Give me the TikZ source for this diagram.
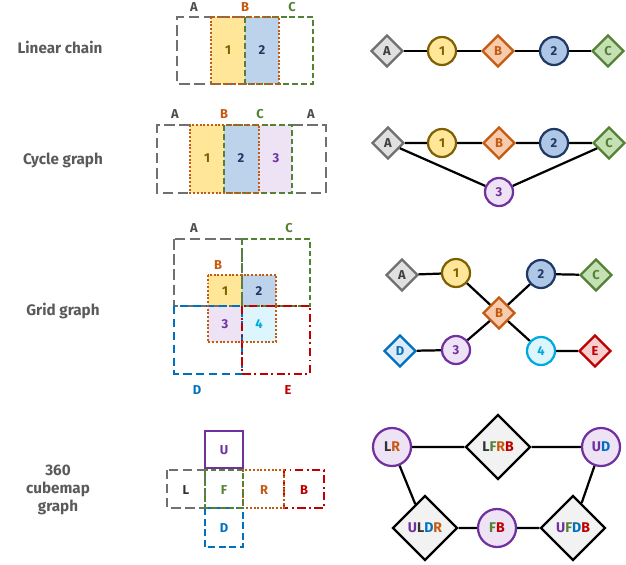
\documentclass[tikz,border=0pt]{standalone}
\usepackage{fontspec}
\setmainfont{Fira Sans}
\usetikzlibrary{shapes.geometric}
\definecolor{cgray}{HTML}{707070}
\definecolor{corange}{HTML}{C55A11}
\definecolor{cgreen}{HTML}{548235}
\definecolor{cpurple}{HTML}{7030A0}
\definecolor{cblue}{HTML}{0070C0}
\definecolor{cred}{HTML}{C00000}
\definecolor{cnavy}{HTML}{1F3864}
\definecolor{colive}{HTML}{7F6000}
\definecolor{ccyan}{HTML}{00A8E0}
\definecolor{fyellow}{HTML}{FFE699}
\definecolor{fblue}{HTML}{BDD3EC}
\definecolor{flav}{HTML}{EEE3F5}
\definecolor{fcyan}{HTML}{DDF5FC}
\definecolor{fgray}{HTML}{E0E0E0}
\definecolor{forange}{HTML}{F8CBAD}
\definecolor{fgreen}{HTML}{C5E0B4}
\definecolor{fdblue}{HTML}{AFC7E6}
\definecolor{fred}{HTML}{F8CFCF}
\definecolor{fltblue}{HTML}{DDEBF7}
\definecolor{fwhite}{HTML}{F2F2F2}
\tikzset{
  lbl/.style={font=\fontsize{13}{15}\selectfont\bfseries, text=cgray!80!black, align=center},
  tag/.style={font=\fontsize{11}{12}\selectfont\bfseries},
  bx/.style={line width=1.9pt},
  ga/.style={bx, cgray, dash pattern=on 9pt off 4pt},
  ob/.style={bx, corange, dash pattern=on 1.6pt off 1.6pt},
  gc/.style={bx, cgreen, dash pattern=on 5pt off 2.5pt},
  bd/.style={bx, cblue, dash pattern=on 7pt off 4pt},
  re/.style={bx, cred, dash pattern=on 7pt off 3pt on 1.6pt off 3pt},
  dm/.style={diamond, aspect=1, draw, line width=1.9pt, minimum size=0.96cm, inner sep=0pt, font=\fontsize{11}{12}\selectfont\bfseries},
  cr/.style={circle, draw, line width=1.9pt, minimum size=0.84cm, inner sep=0pt, font=\fontsize{11}{12}\selectfont\bfseries},
  bigdm/.style={dm, minimum size=1.95cm, fill=fwhite, draw=black, font=\fontsize{12}{13}\selectfont\bfseries},
  bigcr/.style={cr, minimum size=1.14cm, fill=flav, draw=cpurple, font=\fontsize{12}{13}\selectfont\bfseries},
  ed/.style={line width=1.9pt, black},
}
\begin{document}
\begin{tikzpicture}[x=0.03cm, y=-0.03cm]
\useasboundingbox (0,0) rectangle (626,564);
% left labels
\node[lbl] (l1) at (60,47) {Linear chain};
\node[lbl] (l2) at (63,160) {Cycle graph};
\node[lbl] (l3) at (63,311) {Grid graph};
\node[lbl] (l4) at (58,490) {360\\cubemap\\graph};

% ---- linear chain tiles
\fill[fyellow] (211,17) rectangle (245,84);
\fill[fblue] (245,17) rectangle (279,84);
\draw[ga] (245,17) -- (177,17) -- (177,84) -- (245,84);
\draw[gc] (245,17) rectangle (313,84);
\draw[ob] (211,17) rectangle (279,84);
\node[tag, text=colive] (t1) at (228,50) {1};
\node[tag, text=cnavy] (t2) at (262,50) {2};
\node[tag, text=cgray!70!black] (ta) at (194,7) {A};
\node[tag, text=corange] (tb) at (245,7) {B};
\node[tag, text=cgreen] (tc) at (292,7) {C};

% ---- cycle tiles
\fill[fyellow] (190,125) rectangle (224,193);
\fill[fblue] (224,125) rectangle (259,193);
\fill[flav] (259,125) rectangle (292,193);
\draw[ga] (190,125) -- (157,125) -- (157,193) -- (190,193);
\draw[ga] (292,125) -- (326,125) -- (326,193) -- (292,193);
\draw[gc] (224,125) rectangle (292,193);
\draw[ob] (190,125) rectangle (259,193);
\node[tag, text=colive] (c1) at (207,158) {1};
\node[tag, text=cnavy] (c2) at (241,158) {2};
\node[tag, text=cpurple] (c3) at (276,158) {3};
\node[tag, text=cgray!70!black] (ca) at (175,114) {A};
\node[tag, text=corange] (cb) at (224,114) {B};
\node[tag, text=cgreen] (cc) at (260,114) {C};
\node[tag, text=cgray!70!black] (ca2) at (311,114) {A};

% ---- grid tiles
\fill[fyellow] (208,275) rectangle (242,306);
\fill[fblue] (242,275) rectangle (276,306);
\fill[flav] (208,306) rectangle (242,342);
\fill[fcyan] (242,306) rectangle (276,342);
\draw[ga] (174,239) rectangle (242,306);
\draw[gc] (242,239) rectangle (310,306);
\draw[bd] (174,306) rectangle (242,374);
\draw[re] (242,306) rectangle (310,374);
\draw[ob] (208,275) rectangle (276,342);
\node[tag, text=colive] (g1) at (225,291) {1};
\node[tag, text=cnavy] (g2) at (259,291) {2};
\node[tag, text=cpurple] (g3) at (225,324) {3};
\node[tag, text=ccyan] (g4) at (259,324) {4};
\node[tag, text=cgray!70!black] (ga) at (194,228) {A};
\node[tag, text=cgreen] (gc) at (289,228) {C};
\node[tag, text=corange] (gb) at (218,265) {B};
\node[tag, text=cblue] (gd) at (197,390) {D};
\node[tag, text=cred] (ge) at (288,390) {E};

% ---- cubemap tiles
\draw[bx, cpurple] (205,431) rectangle (243,468);
\draw[ga, dash pattern=on 8pt off 4pt] (167,470) rectangle (205,508);
\draw[re] (284,470) rectangle (324,508);
\draw[ob] (243,470) rectangle (284,508);
\draw[bd, dash pattern=on 6pt off 3pt] (205,508) rectangle (243,547);
\draw[gc] (205,470) rectangle (243,508);
\node[tag, text=cpurple] (mu) at (224,450) {U};
\node[tag, text=black!80] (ml) at (186,490) {L};
\node[tag, text=cgreen] (mf) at (224,490) {F};
\node[tag, text=corange] (mr) at (264,490) {R};
\node[tag, text=cred] (mb) at (304,490) {B};
\node[tag, text=cblue] (md) at (224,528) {D};

% ---- right: linear chain graph
\node[dm, fill=fgray, draw=cgray, text=black!75] (LA) at (387,51) {A};
\node[cr, fill=fyellow, draw=colive, text=colive] (L1) at (442,51) {1};
\node[dm, fill=forange, draw=corange, text=corange] (LB) at (498,51) {B};
\node[cr, fill=fdblue, draw=cnavy, text=cnavy] (L2) at (554,51) {2};
\node[dm, fill=fgreen, draw=cgreen, text=cgreen] (LC) at (608,51) {C};
\begin{scope}[on background layer/.style={}]
\end{scope}
\draw[ed] (LA) -- (L1) (L1) -- (LB) (LB) -- (L2) (L2) -- (LC);

% ---- right: cycle graph
\node[dm, fill=fgray, draw=cgray, text=black!75] (CA) at (388,143) {A};
\node[cr, fill=fyellow, draw=colive, text=colive] (C1) at (442,143) {1};
\node[dm, fill=forange, draw=corange, text=corange] (CB) at (499,143) {B};
\node[cr, fill=fdblue, draw=cnavy, text=cnavy] (C2) at (554,143) {2};
\node[dm, fill=fgreen, draw=cgreen, text=cgreen] (CC) at (609,143) {C};
\node[cr, fill=flav, draw=cpurple, text=cpurple] (C3) at (499,192) {3};
\draw[ed] (CA) -- (C1) (C1) -- (CB) (CB) -- (C2) (C2) -- (CC) (CA) -- (C3) (C3) -- (CC);

% ---- right: grid graph
\node[dm, fill=fgray, draw=cgray, text=black!75] (GA) at (402,275) {A};
\node[cr, fill=fyellow, draw=colive, text=colive] (G1) at (456,273) {1};
\node[dm, fill=forange, draw=corange, text=corange] (GB) at (499,313) {B};
\node[cr, fill=fdblue, draw=cnavy, text=cnavy] (G2) at (541,274) {2};
\node[dm, fill=fgreen, draw=cgreen, text=cgreen] (GC) at (596,275) {C};
\node[dm, fill=fltblue, draw=cblue, text=cblue] (GD) at (400,351) {D};
\node[cr, fill=flav, draw=cpurple, text=cpurple] (G3) at (456,350) {3};
\node[cr, fill=fcyan, draw=ccyan, text=ccyan] (G4) at (541,351) {4};
\node[dm, fill=fred, draw=cred, text=cred] (GE) at (595,351) {E};
\draw[ed] (GA) -- (G1) (G1) -- (GB) (GB) -- (G2) (G2) -- (GC)
  (GD) -- (G3) (G3) -- (GB) (GB) -- (G4) (G4) -- (GE);

% ---- right: cubemap graph
\node[bigcr] (LR) at (392,447) {\textcolor{black!80}{L}\textcolor{corange}{R}};
\node[bigdm] (LFRB) at (498,447) {\textcolor{black!80}{L}\textcolor{cgreen}{F}\textcolor{corange}{R}\textcolor{cred}{B}};
\node[bigcr] (UD) at (601,447) {\textcolor{cpurple}{U}\textcolor{cblue}{D}};
\node[bigdm] (ULDR) at (425,528) {\textcolor{cpurple}{U}\textcolor{black!80}{L}\textcolor{cblue}{D}\textcolor{corange}{R}};
\node[bigcr] (FB) at (497,528) {\textcolor{cgreen}{F}\textcolor{cred}{B}};
\node[bigdm] (UFDB) at (573,528) {\textcolor{cpurple}{U}\textcolor{cgreen}{F}\textcolor{cblue}{D}\textcolor{cred}{B}};
\draw[ed] (LR) -- (LFRB) (LFRB) -- (UD) (LR) -- (ULDR) (ULDR) -- (FB) (FB) -- (UFDB) (UFDB) -- (UD);
\end{tikzpicture}
\end{document}
